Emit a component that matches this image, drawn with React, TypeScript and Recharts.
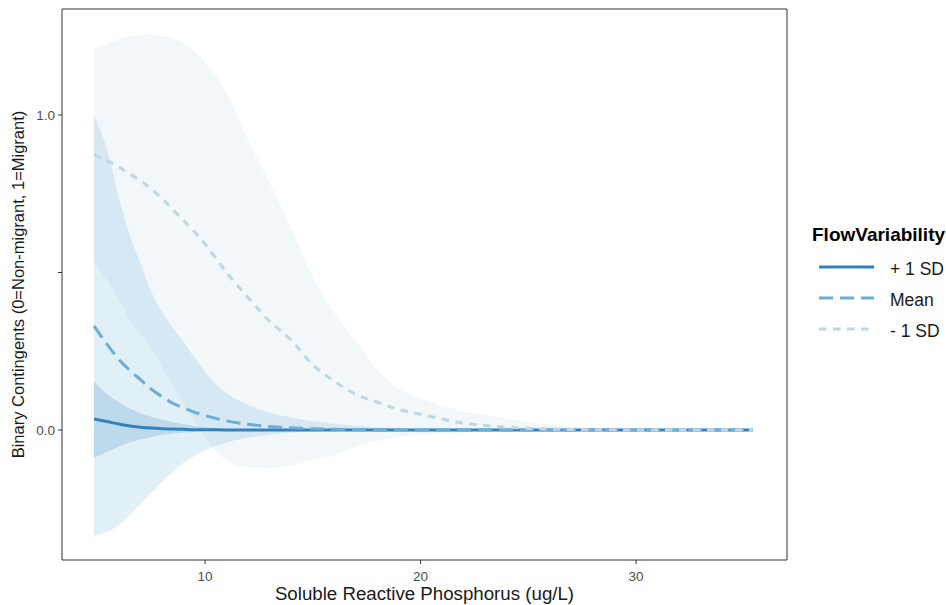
import React from 'react';
import { ComposedChart, Area, Line, XAxis, YAxis, ReferenceArea, Legend, Label } from 'recharts';

// Soluble reactive phosphorus (ug/L)
const xValues = [4.85, 5.5, 6, 6.5, 7, 7.5, 8, 8.5, 9, 9.5, 10, 11, 12, 13, 14, 15, 16, 17, 18, 19, 20, 22, 24, 26, 28, 30, 32, 35.4];

// "+ 1 SD" flow variability
const plusLine = [0.035, 0.026, 0.019, 0.013, 0.009, 0.006, 0.004, 0.003, 0.002, 0.001, 0.001, 0, 0, 0, 0, 0, 0, 0, 0, 0, 0, 0, 0, 0, 0, 0, 0, 0];
const plusUpper = [0.155, 0.112, 0.088, 0.068, 0.053, 0.042, 0.033, 0.025, 0.018, 0.013, 0.009, 0.004, 0.002, 0.001, 0, 0, 0, 0, 0, 0, 0, 0, 0, 0, 0, 0, 0, 0];
const plusLower = [-0.088, -0.068, -0.052, -0.04, -0.03, -0.022, -0.016, -0.012, -0.008, -0.006, -0.004, -0.002, -0.001, 0, 0, 0, 0, 0, 0, 0, 0, 0, 0, 0, 0, 0, 0, 0];

// "Mean" flow variability
const meanLine = [0.33, 0.268, 0.224, 0.19, 0.16, 0.13, 0.106, 0.085, 0.07, 0.057, 0.046, 0.029, 0.018, 0.011, 0.007, 0.004, 0.002, 0.001, 0, 0, 0, 0, 0, 0, 0, 0, 0, 0];
const meanUpper = [1.0, 0.88, 0.74, 0.62, 0.53, 0.44, 0.375, 0.325, 0.28, 0.23, 0.185, 0.117, 0.08, 0.055, 0.04, 0.028, 0.02, 0.013, 0.008, 0.005, 0.003, 0.001, 0, 0, 0, 0, 0, 0];
const meanLower = [-0.334, -0.322, -0.302, -0.27, -0.235, -0.2, -0.165, -0.132, -0.104, -0.083, -0.066, -0.04, -0.025, -0.015, -0.008, -0.004, -0.002, 0, 0, 0, 0, 0, 0, 0, 0, 0, 0, 0];

// "- 1 SD" flow variability
const minusLine = [0.875, 0.853, 0.835, 0.812, 0.792, 0.765, 0.735, 0.7, 0.665, 0.63, 0.59, 0.5, 0.42, 0.345, 0.285, 0.207, 0.155, 0.113, 0.088, 0.065, 0.05, 0.022, 0.009, 0.003, 0.001, 0, 0, 0];
const minusUpper = [1.21, 1.225, 1.24, 1.25, 1.256, 1.257, 1.252, 1.243, 1.228, 1.203, 1.168, 1.07, 0.92, 0.784, 0.64, 0.486, 0.371, 0.28, 0.19, 0.13, 0.1, 0.06, 0.037, 0.016, 0.006, 0.002, 0, 0];
const minusLower = [0.535, 0.47, 0.418, 0.35, 0.305, 0.26, 0.2, 0.14, 0.085, 0.03, -0.025, -0.096, -0.118, -0.122, -0.112, -0.096, -0.08, -0.053, -0.035, -0.022, -0.015, -0.006, -0.002, 0, 0, 0, 0, 0];

const seriesNames = ['+ 1 SD', 'Mean', '- 1 SD'];
const seriesColors = ['#3182BD', '#6BAED6', '#BDD7E7'];
const seriesDash = ['', '14 7', '7.5 6.5'];

const xTicks = [10, 20, 30];
const yTicks = [0, 0.5, 1];
const xDomain = [3.364, 37.0];
const yDomain = [-0.4127, 1.3365];

const data = xValues.map((x, i) => ({
  x,
  plus: plusLine[i],
  mean: meanLine[i],
  minus: minusLine[i],
  plusBand: [plusLower[i], plusUpper[i]],
  meanBand: [meanLower[i], meanUpper[i]],
  minusBand: [minusLower[i], minusUpper[i]],
}));

const FONT = '"Liberation Sans", Arial, sans-serif';

const LegendBox = () => (
  <svg width={146} height={130} style={{ display: 'block', overflow: 'visible' }}>
    <text x={12} y={26} fontSize={19} fontWeight="bold" fill="#000" fontFamily={FONT}>FlowVariability</text>
    {seriesNames.map((name, i) => {
      const cy = 52 + i * 31;
      return (
        <g key={name}>
          <line x1={19} x2={74} y1={cy} y2={cy} stroke={seriesColors[i]} strokeWidth={3} strokeDasharray={seriesDash[i] || undefined} />
          <text x={90} y={cy + 1.5} dominantBaseline="central" fontSize={17.5} fill="#1A1A1A" fontFamily={FONT}>{name}</text>
        </g>
      );
    })}
  </svg>
);

export default function App() {
  return (
    <div style={{ position: 'absolute', left: 0, top: 0, width: 946, height: 605, background: '#fff', fontFamily: FONT, overflow: 'hidden' }}>
      <ComposedChart width={946} height={605} data={data} margin={{ top: 9, right: 159, bottom: 0, left: 0 }}>
        <XAxis
          type="number"
          dataKey="x"
          domain={xDomain}
          ticks={xTicks}
          allowDataOverflow
          height={45}
          axisLine={false}
          tickSize={4}
          tickMargin={7}
          tickLine={{ stroke: '#333333' }}
          tick={{ fill: '#4D4D4D', fontSize: 13.5 }}
        >
          <Label value="Soluble Reactive Phosphorus (ug/L)" position="insideBottom" offset={5} style={{ fontSize: 18.7, fill: '#1A1A1A' }} />
        </XAxis>
        <YAxis
          type="number"
          domain={yDomain}
          ticks={yTicks}
          allowDataOverflow
          width={62}
          axisLine={false}
          tickSize={4}
          tickMargin={3}
          tickLine={{ stroke: '#333333' }}
          tick={{ fill: '#4D4D4D', fontSize: 13.5 }}
          tickFormatter={(v: number) => (v === 0.5 ? '' : v.toFixed(1))}
        >
          <Label value="Binary Contingents (0=Non-migrant, 1=Migrant)" angle={-90} position="insideLeft" offset={18} style={{ fontSize: 16.5, fill: '#1A1A1A', textAnchor: 'middle' }} />
        </YAxis>
        <Area dataKey="minusBand" type="monotone" stroke="none" fill={seriesColors[2]} fillOpacity={0.2} isAnimationActive={false} activeDot={false} />
        <Area dataKey="meanBand" type="monotone" stroke="none" fill={seriesColors[1]} fillOpacity={0.2} isAnimationActive={false} activeDot={false} />
        <Area dataKey="plusBand" type="monotone" stroke="none" fill={seriesColors[0]} fillOpacity={0.2} isAnimationActive={false} activeDot={false} />
        <Line dataKey="plus" type="monotone" stroke={seriesColors[0]} strokeWidth={3} dot={false} activeDot={false} isAnimationActive={false} />
        <Line dataKey="mean" type="monotone" stroke={seriesColors[1]} strokeWidth={3} strokeDasharray={seriesDash[1]} dot={false} activeDot={false} isAnimationActive={false} />
        <Line dataKey="minus" type="monotone" stroke={seriesColors[2]} strokeWidth={3} strokeDasharray={seriesDash[2]} dot={false} activeDot={false} isAnimationActive={false} />
        <ReferenceArea x1={xDomain[0]} x2={xDomain[1]} y1={yDomain[0]} y2={yDomain[1]} fill="none" stroke="#333333" strokeWidth={1} ifOverflow="visible" />
        <Legend
          layout="vertical"
          align="center"
          verticalAlign="middle"
          content={() => <LegendBox />}
          wrapperStyle={{ position: 'absolute', left: 800, top: 215, width: 146, height: 130 }}
        />
      </ComposedChart>
    </div>
  );
}
